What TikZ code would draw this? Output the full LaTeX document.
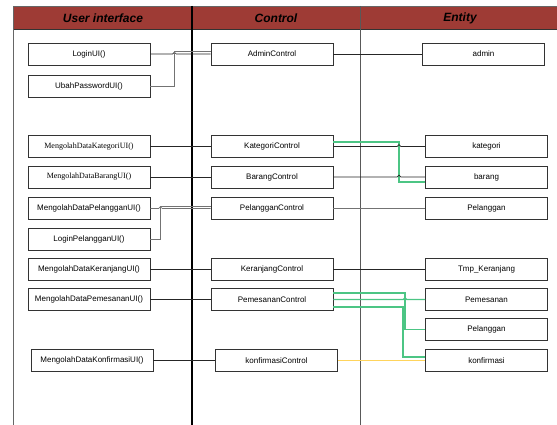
\documentclass[tikz,border=0pt]{standalone}
\usepackage{fontspec}
\setmainfont{Liberation Sans}
\newfontfamily\serifx{Liberation Serif}
\definecolor{hdr}{HTML}{9E3B35}
\definecolor{grn}{HTML}{4CC584}
\definecolor{ylw}{HTML}{FFD45C}
\definecolor{bdr}{HTML}{333333}
\begin{document}
\begin{tikzpicture}[x=1pt,y=-1pt,
  box/.style={draw=bdr,line width=0.9pt,fill=white,minimum width=122pt,minimum height=22pt,inner sep=0pt,font=\fontsize{8}{9}\selectfont},
  conn/.style={line width=0.7pt,draw=black!85},
  gconn/.style={line width=0.7pt,draw=black!55},
  gline/.style={line width=1.2pt,draw=grn},
  yline/.style={line width=1.2pt,draw=ylw},
  hdrtext/.style={font=\fontsize{12}{14}\selectfont\bfseries\itshape}]
\useasboundingbox (0,0) rectangle (557,425);
% header
\fill[hdr] (13,6) rectangle (557,29.5);
\draw[black!60,line width=0.8pt] (13,6) -- (557,6);
\draw[black!80,line width=0.9pt] (13,29.5) -- (557,29.5);
\draw[black!60,line width=0.8pt] (13,6) -- (13,425);
\draw[black,line width=1.2pt] (192,6) -- (192,425);
\draw[black!65,line width=0.8pt] (360,6) -- (360,425);
\node[hdrtext] (h1) at (103,18) {User interface};
\node[hdrtext] (h2) at (276,18) {Control};
\node[hdrtext] (h3) at (460,18) {Entity};
% UI boxes
\node[box] (loginui) at (89,54) {LoginUI()};
\node[box] (ubah) at (89,86) {UbahPasswordUI()};
\node[box] (katui) at (89,146.5) {\serifx MengolahDataKategoriUI()};
\node[box] (barui) at (89,177) {\serifx MengolahDataBarangUI()};
\node[box] (pelui) at (89,208.5) {MengolahDataPelangganUI()};
\node[box] (lpui) at (89,239.5) {LoginPelangganUI()};
\node[box] (kerui) at (89,269.5) {MengolahDataKeranjangUI()};
\node[box] (pemui) at (89,299.5) {MengolahDataPemesananUI()};
\node[box] (konui) at (92,360.5) {MengolahDataKonfirmasiUI()};
% control boxes
\node[box] (admc) at (272,54) {AdminControl};
\node[box] (katc) at (272,146.5) {KategoriControl};
\node[box] (barc) at (272,177) {BarangControl};
\node[box] (pelc) at (272,208.5) {PelangganControl};
\node[box] (kerc) at (272,269.5) {KeranjangControl};
\node[box] (pemc) at (272,299.5) {PemesananControl};
\node[box] (konc) at (276.5,360.5) {konfirmasiControl};
% entity boxes
\node[box] (adme) at (483.5,54) {admin};
\node[box] (kate) at (486.5,146.5) {kategori};
\node[box] (bare) at (486.5,177) {barang};
\node[box] (pele) at (486.5,208.5) {Pelanggan};
\node[box] (kere) at (486.5,269.5) {Tmp\_Keranjang};
\node[box] (peme) at (486.5,299.5) {Pemesanan};
\node[box] (pel2e) at (486.5,329.5) {Pelanggan};
\node[box] (kone) at (486.5,360.5) {konfirmasi};
% corner coordinates
\coordinate (j1) at (174,51.5);
\coordinate (j2) at (160,206);
\coordinate (g1) at (399,142);
\coordinate (g2) at (399,182);
\coordinate (p1) at (405,293);
\coordinate (p2) at (405,329.5);
\coordinate (q1) at (403,307);
\coordinate (q2) at (403,357);
% UI -> control
\draw[conn] (loginui.east) -- ++(22.2,0) arc[start angle=180,end angle=0,radius=1.8pt] -- (admc.west);
\draw[gconn] (ubah.east) -| (j1) -- (j1 -| admc.west);
\draw[conn] (katui) -- (katc);
\draw[conn] (barui) -- (barc);
\draw[gconn] (pelui.east) -- ++(8.2,0) arc[start angle=180,end angle=0,radius=1.8pt] -- (pelc.west);
\draw[gconn] (lpui.east) -| (j2) -- (j2 -| pelc.west);
\draw[conn] (kerui) -- (kerc);
\draw[conn] (pemui) -- (pemc);
\draw[conn] (konui) -- (konc);
% control -> entity
\draw[conn] (admc) -- (adme);
\draw[gline] (katc.east |- g1) -- (g1) -- (g2) -- (g2 -| bare.west);
\draw[conn] (katc.east) -- (397.2,146.5) arc[start angle=180,end angle=0,radius=1.8pt] -- (kate.west);
\draw[conn] (barc.east) -- (397.2,177) arc[start angle=180,end angle=0,radius=1.8pt] -- (bare.west);
\draw[gconn] (pelc) -- (pele);
\draw[conn] (kerc) -- (kere);
\draw[gline] (pemc.east |- p1) -- (p1) -- (p2) -- (pel2e.west);
\draw[gline] (pemc.east) -- (403.2,299.5) arc[start angle=180,end angle=0,radius=1.8pt] -- (peme.west);
\draw[gline] (pemc.east |- q1) -- (q1) -- (q2) -- (q2 -| kone.west);
\draw[yline] (konc.east) -- (kone.west);
\end{tikzpicture}
\end{document}
